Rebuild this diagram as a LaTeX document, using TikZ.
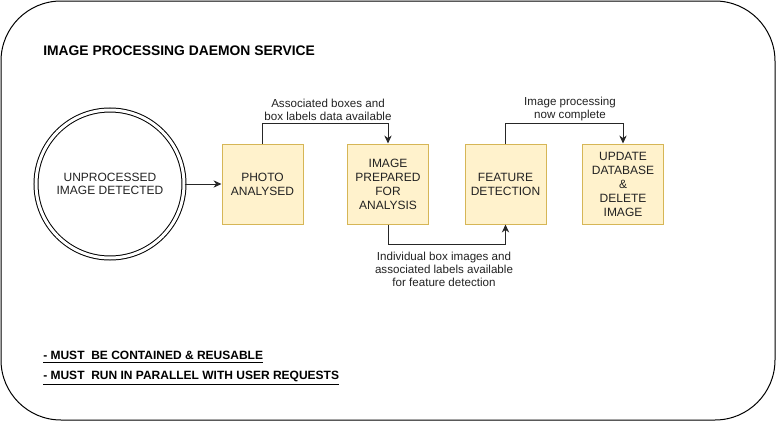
\documentclass[tikz,border=0pt]{standalone}
\usepackage{fontspec}
\setmainfont{Liberation Sans}
\usetikzlibrary{arrows.meta}
\definecolor{boxfill}{HTML}{FFF2CC}
\definecolor{boxdraw}{HTML}{D6B656}
\definecolor{txt}{HTML}{222222}
\begin{document}
\begin{tikzpicture}[x=0.75pt,y=-0.75pt,
  stepbox/.style={draw=boxdraw, fill=boxfill, line width=0.75pt, minimum width=60.75pt, minimum height=60pt, align=center, text=txt, font=\fontsize{9}{10.5}\selectfont, inner sep=0pt},
  link/.style={draw=black!85, line width=0.75pt, -{Stealth[length=6pt,width=5.5pt]}},
  lbl/.style={align=center, text=txt, font=\fontsize{8.7}{9.75}\selectfont, inner sep=0pt},
  note/.style={anchor=west, inner sep=0pt, font=\bfseries\fontsize{9}{11}\selectfont}]
\useasboundingbox (0,0) rectangle (776,421);
\draw[line width=0.75pt, rounded corners=45pt] (1,1) rectangle (775,420);
\node[anchor=west, inner sep=0pt, font=\bfseries\fontsize{10.4}{12}\selectfont] (title) at (43,51) {IMAGE PROCESSING DAEMON SERVICE};
\node[draw, circle, double, double distance=2.25pt, line width=0.75pt, minimum size=111pt, align=center, text=txt, font=\fontsize{9}{10.2}\selectfont, inner sep=0pt] (start) at (110,184) {UNPROCESSED\\IMAGE DETECTED};
\node[stepbox] (b1) at (262.5,184) {PHOTO\\ANALYSED};
\node[stepbox] (b2) at (388,184) {IMAGE\\PREPARED\\FOR\\ANALYSIS};
\node[stepbox] (b3) at (505.5,184) {FEATURE\\DETECTION};
\node[stepbox] (b4) at (623,184) {UPDATE\\DATABASE\\\&\\DELETE\\IMAGE};
\draw[link] (start) -- (b1);
\draw[link] (b1.north) -- ++(0,-20) -| (b2.north);
\draw[link] (b2.south) -- ++(0,20) -| (b3.south);
\draw[link] (b3.north) -- ++(0,-20) -| (b4.north);
\node[lbl] (l1) at (328,109.5) {Associated boxes and\\box labels data available};
\node[lbl] (l2) at (444,269) {Individual box images and\\associated labels available\\for feature detection};
\node[lbl] (l3) at (570,109.5) {Image processing\\now complete};
\node[note] (n1) at (43,357) {\underline{- MUST\ \ BE CONTAINED \& REUSABLE}};
\node[note] (n2) at (43,378) {\underline{- MUST\ \ RUN IN PARALLEL WITH USER REQUESTS}};
\end{tikzpicture}
\end{document}
